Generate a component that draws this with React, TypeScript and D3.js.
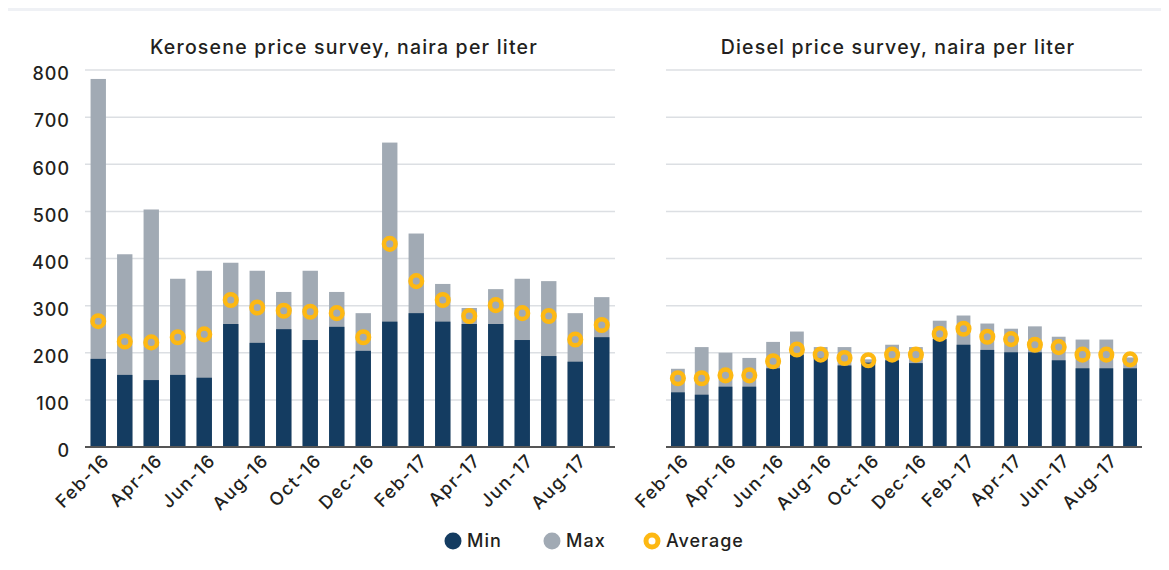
import React, { useEffect, useRef } from 'react';
import * as d3 from 'd3';

const months = [
  'Feb-16', 'Mar-16', 'Apr-16', 'May-16', 'Jun-16', 'Jul-16', 'Aug-16', 'Sep-16', 'Oct-16', 'Nov-16',
  'Dec-16', 'Jan-17', 'Feb-17', 'Mar-17', 'Apr-17', 'May-17', 'Jun-17', 'Jul-17', 'Aug-17', 'Sep-17',
];
const tickLabels = ['Feb-16', 'Apr-16', 'Jun-16', 'Aug-16', 'Oct-16', 'Dec-16', 'Feb-17', 'Apr-17', 'Jun-17', 'Aug-17'];
const yTicks = [0, 100, 200, 300, 400, 500, 600, 700, 800];

const keroseneMin = [187, 153, 142, 153, 147, 261, 221, 250, 227, 255, 204, 266, 284, 266, 261, 261, 227, 193, 181, 233];
const keroseneMax = [781, 409, 504, 357, 374, 391, 374, 329, 374, 329, 284, 646, 453, 346, 295, 335, 357, 352, 284, 318];
const keroseneAvg = [267, 224, 222, 233, 239, 312, 296, 289, 287, 284, 233, 431, 352, 312, 278, 301, 284, 278, 228, 259];

const dieselMin = [116, 111, 128, 128, 167, 196, 189, 173, 179, 184, 178, 229, 217, 206, 201, 201, 184, 167, 167, 167];
const dieselMax = [166, 212, 200, 189, 223, 245, 212, 212, 186, 217, 212, 268, 279, 262, 251, 256, 234, 228, 228, 190];
const dieselAvg = [146, 146, 152, 152, 182, 207, 196, 189, 184, 196, 196, 240, 251, 234, 229, 217, 212, 196, 196, 186];

const NAVY = '#143c61';
const GREY = '#a1aab4';
const GOLD = '#fdb813';
const FONT = 'Inter, "Noto Sans", sans-serif';
const INK = '#231f20';

const W = 1169;
const H = 570;

const panels = [
  { title: 'Kerosene price survey, naira per liter', x0: 85, x1: 615, showY: true, min: keroseneMin, max: keroseneMax, avg: keroseneAvg },
  { title: 'Diesel price survey, naira per liter', x0: 666, x1: 1142, showY: false, min: dieselMin, max: dieselMax, avg: dieselAvg },
];

const App = () => {
  const svgRef = useRef<SVGSVGElement>(null);

  useEffect(() => {
    const svg = d3.select(svgRef.current);
    svg.selectAll('*').remove();

    svg.append('rect').attr('width', W).attr('height', H).attr('fill', '#eff1f5');
    svg.append('rect').attr('x', 7).attr('y', 11).attr('width', W - 7).attr('height', H - 11).attr('fill', '#fff');

    const y = d3.scaleLinear().domain([0, 800]).range([447, 70]);

    panels.forEach(p => {
      const x = d3.scaleBand().domain(months).range([p.x0, p.x1]).paddingInner(0.42).paddingOuter(0.21);
      const g = svg.append('g');

      g.append('text')
        .attr('x', (p.x0 + p.x1) / 2 - 6)
        .attr('y', 54)
        .attr('text-anchor', 'middle')
        .attr('font-family', FONT)
        .attr('font-size', 19.5)
        .attr('font-weight', 500)
        .attr('letter-spacing', 1.2)
        .attr('fill', INK)
        .text(p.title);

      // gridlines
      g.selectAll('.grid')
        .data(yTicks.filter(d => d > 0))
        .join('line')
        .attr('x1', p.x0).attr('x2', p.x1)
        .attr('y1', d => y(d)).attr('y2', d => y(d))
        .attr('stroke', '#dcdfe3')
        .attr('stroke-width', 1.5);

      if (p.showY) {
        g.selectAll('.ylab')
          .data(yTicks)
          .join('text')
          .attr('x', 70)
          .attr('y', d => y(d) + 4)
          .attr('dy', '0.35em')
          .attr('text-anchor', 'end')
          .attr('font-family', FONT)
          .attr('font-size', 18)
          .attr('font-weight', 500)
          .attr('letter-spacing', 1)
          .attr('fill', INK)
          .text(d => d);
      }

      // max bars (full height, grey), min bars drawn over
      g.selectAll('.maxbar')
        .data(months)
        .join('rect')
        .attr('x', d => x(d)!)
        .attr('width', x.bandwidth())
        .attr('y', (d, i) => y(p.max[i]))
        .attr('height', (d, i) => y(0) - y(p.max[i]))
        .attr('fill', GREY);

      g.selectAll('.minbar')
        .data(months)
        .join('rect')
        .attr('x', d => x(d)!)
        .attr('width', x.bandwidth())
        .attr('y', (d, i) => y(p.min[i]))
        .attr('height', (d, i) => y(0) - y(p.min[i]))
        .attr('fill', NAVY);

      g.append('line')
        .attr('x1', p.x0).attr('x2', p.x1)
        .attr('y1', y(0)).attr('y2', y(0))
        .attr('stroke', '#555')
        .attr('stroke-width', 2);

      g.selectAll('.avg')
        .data(months)
        .join('circle')
        .attr('cx', d => x(d)! + x.bandwidth() / 2)
        .attr('cy', (d, i) => y(p.avg[i]))
        .attr('r', 5.8)
        .attr('fill', 'none')
        .attr('stroke', GOLD)
        .attr('stroke-width', 4.5);

      g.selectAll('.xlab')
        .data(tickLabels)
        .join('text')
        .attr('transform', d => `translate(${x(d)! + x.bandwidth() / 2 + 8},${y(0) + 10}) rotate(-45)`)
        .attr('text-anchor', 'end')
        .attr('dy', '0.35em')
        .attr('font-family', FONT)
        .attr('font-size', 18)
        .attr('font-weight', 500)
        .attr('letter-spacing', 1.4)
        .attr('fill', INK)
        .text(d => d);
    });

    // legend
    const lg = svg.append('g')
      .attr('font-family', FONT)
      .attr('font-size', 18)
      .attr('font-weight', 500)
      .attr('letter-spacing', 1)
      .attr('fill', INK);
    const items = [
      { label: 'Min', cx: 453, kind: 'min' },
      { label: 'Max', cx: 552, kind: 'max' },
      { label: 'Average', cx: 652, kind: 'avg' },
    ];
    items.forEach(it => {
      if (it.kind === 'avg') {
        lg.append('circle').attr('cx', it.cx).attr('cy', 541).attr('r', 6).attr('fill', 'none').attr('stroke', GOLD).attr('stroke-width', 5);
      } else {
        lg.append('circle').attr('cx', it.cx).attr('cy', 541).attr('r', 8.5).attr('fill', it.kind === 'min' ? NAVY : GREY);
      }
      lg.append('text').attr('x', it.cx + 14).attr('y', 541).attr('dy', '0.35em').text(it.label);
    });
  }, []);

  return <svg ref={svgRef} width={W} height={H} style={{ display: 'block', margin: -8 }} />;
};

export default App;
